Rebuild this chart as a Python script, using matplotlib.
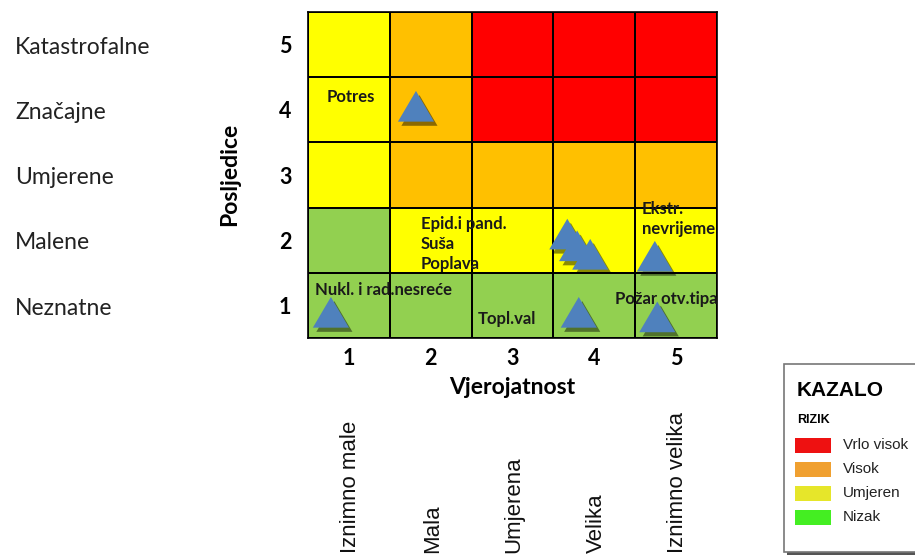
import numpy as np
import matplotlib.pyplot as plt
import matplotlib.patheffects as pe
from matplotlib.colors import ListedColormap
from matplotlib.patches import Rectangle
import matplotlib.transforms as mtransforms

# axes categories
probability = [1, 2, 3, 4, 5]
consequence = [1, 2, 3, 4, 5]
prob_names = ["Iznimno male", "Mala", "Umjerena", "Velika", "Iznimno velika"]
cons_names = ["Neznatne", "Malene", "Umjerene", "Značajne", "Katastrofalne"]

# risk level of each cell, rows = consequence 1..5, cols = probability 1..5
# 0 nizak, 1 umjeren, 2 visok, 3 vrlo visok
risk = np.array([
    [0, 0, 0, 0, 0],
    [0, 1, 1, 1, 1],
    [1, 2, 2, 2, 2],
    [1, 2, 3, 3, 3],
    [1, 2, 3, 3, 3],
])
cell_colors = ["#92D050", "#FFFF00", "#FFC000", "#FF0000"]

# hazard markers (probability, consequence)
hazard_x = [1.82, 0.78, 3.67, 3.79, 3.95, 4.74, 3.81, 4.77]
hazard_y = [4.04, 0.88, 2.08, 1.90, 1.77, 1.74, 0.88, 0.81]

# hazard names written in the matrix
hazard_names = ["Potres", "Epid.i pand.\nSuša\nPoplava", "Ekstr.\nnevrijeme",
                "Nukl. i rad.nesreće", "Topl.val", "Požar otv.tipa"]
name_x = [0.73, 1.88, 4.58, 0.59, 2.57, 4.25]
name_y = [4.20, 1.94, 2.32, 1.24, 0.79, 1.10]

legend_labels = ["Vrlo visok", "Visok", "Umjeren", "Nizak"]
legend_colors = ["#EE1111", "#F0A030", "#E6E62A", "#44EE22"]

body_font = ["Lato", "DejaVu Sans"]
arial = ["Liberation Sans", "DejaVu Sans"]

fig = plt.figure(figsize=(9.15, 5.58), dpi=100)
ax = fig.add_axes([308 / 915, 1 - 338 / 558, 409 / 915, 326 / 558])

edges = np.arange(0.5, 6.0, 1.0)
ax.pcolormesh(edges, edges, risk, cmap=ListedColormap(cell_colors),
              vmin=-0.5, vmax=3.5, edgecolor="black", linewidth=1.2)
ax.set_xlim(0.5, 5.5)
ax.set_ylim(0.5, 5.5)
for s in ax.spines.values():
    s.set_linewidth(1.2)

shadow = [pe.SimplePatchShadow(offset=(2.5, -3), shadow_rgbFace="black", alpha=0.45), pe.Normal()]
ax.plot(hazard_x, hazard_y, linestyle="none",
        marker=[(-1, -0.8), (1, -0.8), (0, 0.9)], markersize=26,
        color="#4F81BD", markeredgewidth=0, path_effects=shadow, zorder=4)

for t, x, y in zip(hazard_names, name_x, name_y):
    ax.text(x, y, t, ha="left", va="center", fontsize=12, fontweight="bold",
            family=body_font, linespacing=1.3, color="#1a1a1a", zorder=5, clip_on=False)

ax.set_xticks(probability)
ax.set_xticklabels([str(p) for p in probability], fontsize=15.5, fontweight="bold", family=body_font)
ax.set_yticks(consequence)
ax.set_yticklabels([str(c) for c in consequence], fontsize=15.5, fontweight="bold", family=body_font)
ax.tick_params(length=0, pad=7)
ax.tick_params(axis="y", pad=12)
ax.set_xlabel("Vjerojatnost", fontsize=16.5, fontweight="bold", family=body_font)
ax.set_ylabel("Posljedice", fontsize=16.5, fontweight="bold", family=body_font)
ax.xaxis.set_label_coords(0.499, -0.152)
ax.yaxis.set_label_coords(-0.191, 0.503)
ax.xaxis.label.set_verticalalignment("center")
ax.yaxis.label.set_verticalalignment("center")

# descriptive consequence names on the left
ty = mtransforms.blended_transform_factory(fig.transFigure, ax.transData)
for c, name in zip(consequence, cons_names):
    ax.text(15 / 915, c - 0.04, name, transform=ty, ha="left", va="center",
            fontsize=16.5, family=body_font, color="#222222")

# descriptive probability names, rotated below the matrix
tx = mtransforms.blended_transform_factory(ax.transData, fig.transFigure)
for p, name in zip(probability, prob_names):
    ax.text(p + 0.02, 5 / 558, name, transform=tx, rotation=90, ha="center", va="bottom",
            fontsize=16, family=arial, color="#111111", clip_on=False)

# legend box (KAZALO)
lax = fig.add_axes([0, 0, 1, 1], zorder=10)
lax.set_xlim(0, 915)
lax.set_ylim(558, 0)
lax.axis("off")
lax.add_patch(Rectangle((787, 367), 140, 188, facecolor="#555555", edgecolor="none"))
lax.add_patch(Rectangle((784, 364), 140, 188, facecolor="white", edgecolor="#777777", linewidth=1.2))
lax.text(797, 391, "KAZALO", fontsize=15, fontweight="bold", family=arial, va="center", ha="left")
lax.text(797, 420, "RIZIK", fontsize=9, fontweight="bold", family=arial, va="center", ha="left")
for i, (lab, col) in enumerate(zip(legend_labels, legend_colors)):
    yc = 445 + i * 24
    lax.add_patch(Rectangle((795, yc - 7), 36, 15, facecolor=col, edgecolor="none"))
    lax.text(843, yc, lab, fontsize=11, family=arial, va="center", ha="left", color="#222222")

fig.savefig("out.png", dpi=100)
